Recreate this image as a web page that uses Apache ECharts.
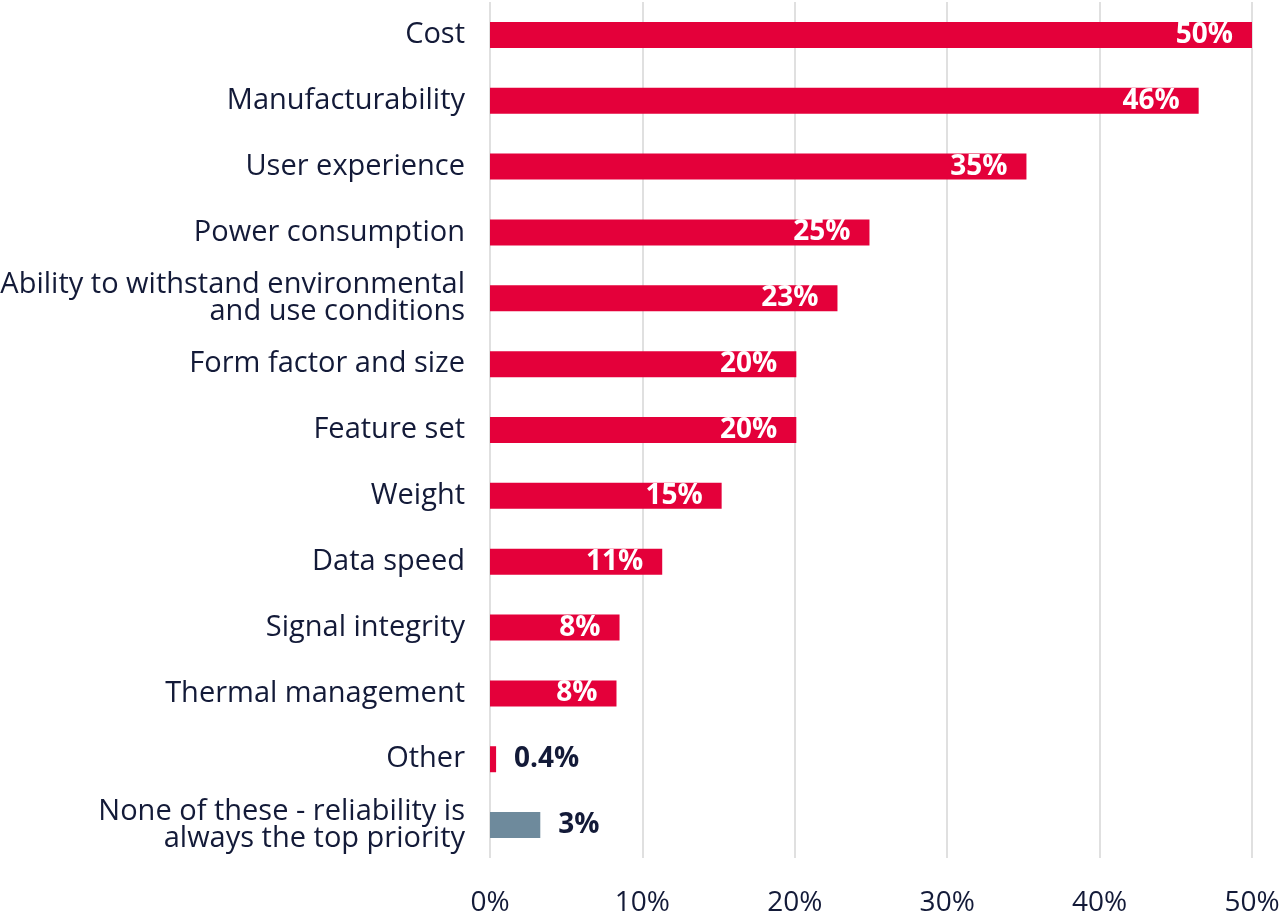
<!DOCTYPE html>
<html>
<head>
<meta charset="utf-8">
<script src="https://cdn.jsdelivr.net/npm/echarts@6/dist/echarts.min.js"></script>
<style>
  html, body { margin: 0; padding: 0; background: #fff; }
  #chart { width: 1280px; height: 913px; }
</style>
</head>
<body>
<div id="chart"></div>
<script>
// Priorities chart: horizontal bars, value labels inside for big bars,
// outside for the tiny ones.
const categories = [
  "Cost",
  "Manufacturability",
  "User experience",
  "Power consumption",
  "Ability to withstand environmental\nand use conditions",
  "Form factor and size",
  "Feature set",
  "Weight",
  "Data speed",
  "Signal integrity",
  "Thermal management",
  "Other",
  "None of these - reliability is\nalways the top priority",
];
const values = [50, 46.5, 35.2, 24.9, 22.8, 20.1, 20.1, 15.2, 11.3, 8.5, 8.3, 0.4, 3.3];
const valueLabels = ["50%", "46%", "35%", "25%", "23%", "20%", "20%", "15%", "11%", "8%", "8%", "0.4%", "3%"];
const outsideLabel = [false, false, false, false, false, false, false, false, false, false, false, true, true];
const xTicks = [0, 10, 20, 30, 40, 50];

const RED = "#e4003a";
const SLATE = "#6e8a9c";
const INK = "#131a38";
const GRID = "#e0e0e0";
const FONT = "'Open Sans', 'Noto Sans', sans-serif";

const chart = echarts.init(document.getElementById("chart"));

chart.setOption({
  animation: false,
  grid: { left: 490, right: 28, top: 2, bottom: 55, outerBoundsMode: "none" },
  xAxis: {
    type: "value",
    min: xTicks[0],
    max: xTicks[xTicks.length - 1],
    interval: 10,
    axisLine: { show: false },
    axisTick: { show: false },
    splitLine: { lineStyle: { color: GRID, width: 2 } },
    axisLabel: {
      color: INK,
      fontFamily: FONT,
      fontSize: 28,
      margin: 31,
      formatter: (v) => v + "%",
    },
  },
  yAxis: {
    type: "category",
    inverse: true,
    data: categories,
    axisLine: { show: false },
    axisTick: { show: false },
    axisLabel: {
      color: INK,
      fontFamily: FONT,
      fontSize: 29,
      lineHeight: 27,
      margin: 25,
      align: "right",
    },
  },
  series: [
    {
      type: "bar",
      barWidth: 26,
      data: values.map((v, i) => {
        const out = outsideLabel[i];
        return {
          value: v,
          itemStyle: { color: i === values.length - 1 ? SLATE : RED },
          label: {
            show: true,
            position: out ? "right" : "insideRight",
            distance: out ? 18 : 19,
            color: out ? INK : "#fff",
            fontFamily: FONT,
            fontWeight: "bold",
            fontSize: 28,
            formatter: () => valueLabels[i],
          },
        };
      }),
    },
  ],
});
</script>
</body>
</html>
